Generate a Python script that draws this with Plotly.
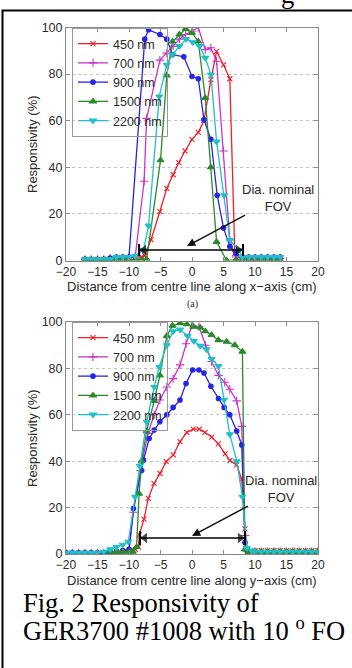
import plotly.graph_objects as go

W, H = 352, 668
def px(x):
    return x / W
def py(y):
    return 1 - y / H

names = ["450 nm", "700 nm", "900 nm", "1500 nm", "2200 nm"]
colors = ["#f0202a", "#cc33cc", "#2424e8", "#2a8a2a", "#1fc0c8"]
symbols = ["x-thin", "cross-thin", "circle", "triangle-up", "triangle-down"]
msizes = [5, 6, 4.5, 6, 6]

# ---- top panel (along x-axis) ----
xa_450 = [-17, -16, -15, -14, -13, -12, -11, -10, -9, -8, -7.5, -6.5, -5.1, -4.0, -3.0, -2.1, -1.1, 0, 1, 1.9, 3.0, 3.9, 5.0, 6.0, 6.8, 8, 9, 10, 11, 12, 13, 14]
ya_450 = [0.5, 0.5, 0.5, 0.5, 0.5, 1, 1, 1, 1.5, 1.5, 2, 9, 21, 31, 36.8, 42, 47, 52, 55, 60, 77.6, 89.8, 84, 78, 3, 1, 0.8, 0.8, 0.8, 0.8, 0.8, 0.8]

xa_700 = [-17, -16, -15, -14, -13, -12, -11, -10, -9, -7.6, -7.2, -5.1, -4.0, -3, -2, -1, 0, 1, 2.1, 3.0, 3.9, 5.0, 6.0, 7, 8, 9, 10, 11, 12, 13, 14]
ya_700 = [0.5, 0.5, 0.5, 0.5, 1, 1, 1, 1.5, 2, 34, 61, 86, 89, 92, 95, 97, 98.5, 100, 90.5, 91.3, 85.5, 47, 8.8, 1.5, 1, 1, 1, 1, 1, 1, 1]

xa_900 = [-17, -16, -15, -14, -13, -12, -11, -10, -7.5, -6.9, -5.1, -4.0, -3.1, -1.3, 0, 1, 1.9, 3.0, 4.0, 5.0, 6.0, 7.0, 8, 9, 10, 11, 12, 13, 14]
ya_900 = [0.5, 0.5, 0.5, 0.5, 1, 1.5, 1.5, 1.5, 95, 99, 97, 95, 88.4, 87.4, 79, 78, 60.4, 52, 28, 14, 6, 3, 1.5, 1.5, 1.5, 1.5, 1.5, 1.5, 1.5]

xa_1500 = [-17, -16, -15, -14, -13, -12, -11, -10, -9, -8, -7.2, -5.0, -4.0, -3.1, -2, -1.0, 0, 1.0, 2.1, 3.0, 3.9, 5.5, 7, 8, 9, 10, 11, 12, 13, 14]
ya_1500 = [0.3, 0.3, 0.3, 0.3, 0.3, 0.3, 0.3, 0.3, 0.3, 0.3, 0.5, 43, 79.4, 94, 97, 99.4, 97.7, 94, 69.8, 40, 8, 0, 0.3, 0.3, 0.3, 0.3, 0.3, 0.3, 0.3, 0.3]

xa_2200 = [-17, -16, -15, -14, -13, -12, -11, -10, -9, -7.7, -6.9, -5.2, -4.0, -3.1, -2, -0.95, 0.1, 1.2, 2.1, 3.0, 3.9, 5.1, 6.0, 7.4, 8, 9, 10, 11, 12, 13, 14]
ya_2200 = [0.5, 0.5, 0.5, 0.5, 0.5, 1.5, 1.5, 1.5, 2, 4.5, 15, 70.4, 84, 88.4, 92, 95, 93.7, 92, 87, 79.8, 51, 28, 8.8, 4.5, 1.5, 1.5, 1.5, 1.5, 1.5, 1.5, 1.5]

# ---- bottom panel (along y-axis) ----
xb_450 = [-20, -19, -18, -17, -16, -15, -14, -13, -12, -11, -10, -9, -8.5, -8.37, -7.62, -6.94, -6.03, -5.08, -4.1, -2.97, -1.9, -0.84, 0.21, 1.16, 2.06, 3.12, 4.17, 5.24, 6.03, 7.09, 7.89, 8.4, 8.8, 10, 11, 12, 13, 14, 15, 16, 17, 18, 19, 20]
yb_450 = [0.3, 0.3, 0.3, 0.3, 0.3, 0.3, 0.3, 1, 1, 1, 1.5, 2, 3, 8.2, 15, 24, 30.4, 34.7, 39.8, 42.7, 48.4, 52.4, 53.8, 53.8, 52.4, 50.4, 47.5, 43.2, 40.3, 38.4, 32.3, 10.8, 1.5, 1.5, 1.5, 1.5, 1.5, 1.5, 1.5, 1.5, 1.5, 1.5, 1.5, 1.5]

xb_700 = [-20, -19, -18, -17, -16, -15, -14, -13, -12, -11, -10, -9.3, -8.2, -7.0, -6.0, -5.1, -4.0, -3.0, -1.9, -0.95, -0.05, 1.1, 2.1, 3.1, 4.2, 5.2, 6.0, 7.1, 7.9, 8.4, 8.8, 10, 11, 12, 13, 14, 15, 16, 17, 18, 19, 20]
yb_700 = [0.5, 0.5, 0.5, 0.5, 0.5, 0.5, 0.5, 1, 1, 1, 1.5, 18, 36, 52, 60, 66.4, 72, 75.6, 81.5, 90.6, 98.6, 98, 90, 83, 77, 74, 71, 66, 55, 8, 1.2, 1, 1, 1, 1, 1, 1, 1, 1, 1, 1, 1]

xb_900 = [-20, -19, -18, -17, -16, -15, -14, -13, -12, -11, -10, -9.3, -8.0, -7.7, -6.8, -6.0, -5.1, -4.0, -3.0, -1.9, -0.95, 0.1, 1.1, 1.9, 3.0, 4.2, 5.1, 6.0, 7.1, 7.9, 8.4, 8.8, 10, 11, 12, 13, 14, 15, 16, 17, 18, 19, 20]
yb_900 = [0.5, 0.5, 0.5, 0.5, 0.5, 0.5, 0.5, 1, 1, 1.5, 2, 19.6, 36, 40.5, 49.8, 53.4, 57, 60, 63.2, 66.4, 73.5, 79.3, 79.3, 78, 72.3, 67, 63.2, 60, 53, 47, 5, 1, 0.6, 0.6, 0.6, 0.6, 0.6, 0.6, 0.6, 0.6, 0.6, 0.6, 0.6]

xb_1500 = [-13, -12, -11, -10, -9.4, -8.8, -8.4, -8.0, -7.2, -6.0, -5.1, -4.0, -3.1, -1.9, -0.8, 0.2, 1.3, 2.1, 3.1, 4.2, 5.5, 6.8, 8.0, 8.4, 9, 10, 11, 12, 13, 14, 15, 16, 17, 18, 19, 20]
yb_1500 = [1, 1, 1, 1, 1, 3, 26, 40, 53, 66, 77, 94, 98.4, 99.5, 99, 98, 97.6, 96, 94.4, 92.2, 91.5, 90, 87.2, 2, 1, 1, 1, 1, 1, 1, 1, 1, 1, 1, 1, 1]

xb_2200 = [-20, -19, -18, -17, -16, -15, -14, -13, -12, -11, -10.1, -9.05, -8.3, -7.2, -6.0, -5.2, -4.0, -3.0, -1.9, -0.7, 0.3, 1.3, 2.3, 3.1, 4.2, 5.1, 6.0, 7.1, 8.0, 8.7, 9.5, 10, 11, 12, 13, 14, 15, 16, 17, 18, 19, 20]
yb_2200 = [0.5, 0.5, 0.5, 0.5, 0.5, 0.5, 1, 2, 3, 4, 5.3, 24.7, 38, 57, 72, 80.7, 90, 96, 96.7, 94, 91.8, 89.7, 88.2, 84, 81, 66.5, 51.6, 40, 24.7, 2.6, 1.5, 1, 1, 1, 1, 1, 1, 1, 1, 1, 1, 1]

# nominal field-of-view diameter markers
fov_top = [-8.4, 8.1]
fov_top_level = 4.5
fov_bot = [-8.25, 8.4]
fov_bot_level = 6.9

top_x = [xa_450, xa_700, xa_900, xa_1500, xa_2200]
top_y = [ya_450, ya_700, ya_900, ya_1500, ya_2200]
bot_x = [xb_450, xb_700, xb_900, xb_1500, xb_2200]
bot_y = [yb_450, yb_700, yb_900, yb_1500, yb_2200]

x_ticks = [-20, -15, -10, -5, 0, 5, 10, 15, 20]
y_ticks = [0, 20, 40, 60, 80, 100]

SANS = "Liberation Sans, Arial, Helvetica, sans-serif"
SERIF = "Liberation Serif, Times New Roman, serif"
TXT = "#2a2a2a"

fig = go.Figure()

def add_series(xs, ys, xaxis, yaxis, legend):
    for i in range(5):
        fig.add_trace(go.Scatter(
            x=xs[i], y=ys[i], name=names[i], mode="lines+markers",
            xaxis=xaxis, yaxis=yaxis, legend=legend,
            line=dict(color=colors[i], width=1.3),
            marker=dict(symbol=symbols[i], size=msizes[i], color=colors[i],
                        line=dict(color=colors[i], width=1.1)),
        ))

add_series(top_x, top_y, "x", "y", "legend")
add_series(bot_x, bot_y, "x2", "y2", "legend2")

# FOV double-headed bars: a line with triangle heads just inside the end bars
INSET = 0.75
for fov, lvl, xa, ya in [(fov_top, fov_top_level, "x", "y"), (fov_bot, fov_bot_level, "x2", "y2")]:
    fig.add_trace(go.Scatter(
        x=[fov[0], fov[0] + INSET, fov[1] - INSET, fov[1]], y=[lvl] * 4,
        mode="lines+markers", xaxis=xa, yaxis=ya, showlegend=False, hoverinfo="skip",
        line=dict(color="black", width=1.6),
        marker=dict(symbol=["circle", "triangle-left", "triangle-right", "circle"],
                    size=[0, 9, 9, 0], color="black", line=dict(width=0)),
    ))

axis_common = dict(
    showline=True, linecolor="#8a8a8a", linewidth=1, mirror="ticks",
    ticks="inside", ticklen=4, tickcolor="#8a8a8a",
    tickfont=dict(family=SANS, size=12.5, color=TXT),
    zeroline=False, automargin=False,
)
xax = dict(axis_common, range=[-20, 20], tickvals=x_ticks, showgrid=False,
           tickfont=dict(family=SANS, size=12, color=TXT))
yax = dict(axis_common, range=[0, 100], tickvals=y_ticks, showgrid=True,
           gridcolor="#c4c4c4", griddash="dot", gridwidth=1)

legend_common = dict(xanchor="left", yanchor="top",
                     bgcolor="rgba(255,255,255,0)", bordercolor="#9a9a9a", borderwidth=1,
                     font=dict(family=SANS, size=12.5, color=TXT), itemwidth=30,
                     tracegroupgap=0)

fig.update_layout(
    width=W, height=H, autosize=False,
    margin=dict(l=0, r=0, t=0, b=0, autoexpand=False),
    paper_bgcolor="white", plot_bgcolor="white",
    showlegend=True,
    xaxis=dict(xax, domain=[px(66), px(318)], anchor="y"),
    yaxis=dict(yax, domain=[py(260.5), py(27.5)], anchor="x"),
    xaxis2=dict(xax, domain=[px(66), px(318)], anchor="y2"),
    yaxis2=dict(yax, domain=[py(554), py(322)], anchor="x2"),
    legend=dict(legend_common, x=px(72), y=py(28)),
    legend2=dict(legend_common, x=px(72), y=py(322)),
)

def label(text, x, y, size=13, family=SANS, color=TXT, **kw):
    d = dict(text=text, x=px(x), y=py(y), xref="paper", yref="paper", showarrow=False,
             xanchor="center", yanchor="middle", font=dict(family=family, size=size, color=color))
    d.update(kw)
    return d

ann = [
    label("Distance from centre line along x\u2212axis (cm)", 192, 286.5),
    label("Distance from centre line along y\u2212axis (cm)", 192, 580),
    label("Responsivity (%)", 32, 144, textangle=-90),
    label("Responsivity (%)", 32, 438, textangle=-90),
    label("(a)", 192, 303.5, size=10, family=SERIF),
    label("Fig. 2 Responsivity of", 21, 603, size=26.5, family=SERIF, color="black", xanchor="left"),
    label("GER3700 #1008 with 10 <sup>o</sup> FO", 21, 629, size=26.5, family=SERIF, color="black",
          xanchor="left"),
    label("g", 287, -6, size=26.5, family=SERIF, color="black"),
]

# "Dia. nominal FOV" label with its pointer arrow
for xr, yr, tx, ty, hx, hy in [("x", "y", 13.65, 27, -0.8, 6.2), ("x2", "y2", 14.1, 28.2, 0.0, 7.8)]:
    ann.append(dict(x=hx, y=hy, ax=tx, ay=ty, xref=xr, yref=yr, axref=xr, ayref=yr,
                    text="Dia. nominal<br>FOV", showarrow=True, arrowhead=2, arrowsize=1.1,
                    arrowwidth=1.5, arrowcolor="#111", align="center",
                    xanchor="center", yanchor="middle",
                    font=dict(family=SANS, size=13, color=TXT)))
fig.update_layout(annotations=ann)

shapes = []
for xr, yr, fov, lvl, hh in [("x", "y", fov_top, fov_top_level, 2.6), ("x2", "y2", fov_bot, fov_bot_level, 3.0)]:
    for xv in fov:
        shapes.append(dict(type="line", xref=xr, yref=yr, x0=xv, x1=xv, y0=lvl - hh, y1=lvl + hh,
                           line=dict(color="black", width=2)))
shapes.append(dict(type="rect", xref="paper", yref="paper", x0=px(2.5), x1=1.2, y0=-0.2, y1=py(10.5),
                   line=dict(color="black", width=2)))
fig.update_layout(shapes=shapes)

fig.write_html("out.html",
               config={"displayModeBar": False},
               post_script="document.body.style.margin='0';document.body.style.padding='0';"
                           "document.body.style.overflow='hidden';")
